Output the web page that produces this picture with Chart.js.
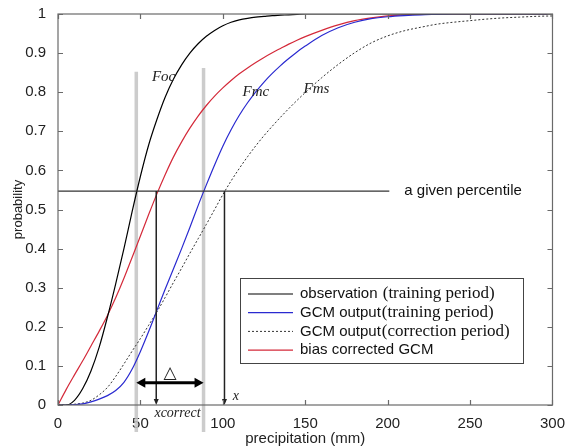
<!DOCTYPE html>
<html>
<head>
<meta charset="utf-8">
<script src="https://cdn.jsdelivr.net/npm/chart.js@4.4.1/dist/chart.umd.min.js"></script>
<style>
html, body { margin: 0; padding: 0; background: #fff; }
#wrap { width: 567px; height: 448px; }
</style>
</head>
<body>
<div id="wrap"><canvas id="chartCdf"></canvas></div>
<script>
// precipitation (mm) where the curves were read
const precip = [0, 5, 10, 15, 20, 25, 30, 35, 40, 45, 50, 55, 60, 65, 70, 75, 80, 85, 90, 95, 100,
    105, 110, 115, 120, 125, 130, 135, 140, 145, 150,
    160, 170, 180, 190, 200, 210, 220, 230, 240, 250, 260, 270, 280, 290, 300];

// Foc - observation (training period)
const obsTraining = [0, 0, 0.012, 0.042, 0.087, 0.148, 0.225, 0.31, 0.40, 0.495, 0.585, 0.665, 0.73, 0.787, 0.833, 0.87, 0.90, 0.924, 0.943, 0.958, 0.97,
    0.979, 0.985, 0.989, 0.992, 0.994, 0.996, 0.997, 0.998, 0.999, 1,
    1, 1, 1, 1, 1, 1, 1, 1, 1, 1, 1, 1, 1, 1, 1];
// Fmc - GCM output (training period)
const gcmTraining = [0, 0, 0.001, 0.003, 0.008, 0.015, 0.024, 0.037, 0.058, 0.092, 0.137, 0.188, 0.242, 0.296, 0.348, 0.40, 0.454, 0.51, 0.563, 0.614, 0.662,
    0.704, 0.741, 0.773, 0.801, 0.826, 0.848, 0.868, 0.886, 0.903, 0.918,
    0.945, 0.965, 0.979, 0.988, 0.993, 0.996, 0.998, 0.999, 1, 1, 1, 1, 1, 1, 1];
// Fms - GCM output (correction period)
const gcmCorrection = [0, 0, 0.002, 0.005, 0.012, 0.026, 0.045, 0.073, 0.105, 0.138, 0.17, 0.204, 0.238, 0.275, 0.313, 0.35, 0.388, 0.425, 0.462, 0.50, 0.538,
    0.573, 0.605, 0.635, 0.663, 0.689, 0.713, 0.736, 0.758, 0.779, 0.799,
    0.837, 0.871, 0.901, 0.926, 0.944, 0.957, 0.966, 0.974, 0.979, 0.983, 0.987, 0.99, 0.992, 0.994, 0.995];
// bias corrected GCM
const biasCorrected = [0, 0.04, 0.077, 0.113, 0.151, 0.189, 0.229, 0.274, 0.324, 0.378, 0.432, 0.487, 0.54, 0.589, 0.634, 0.673, 0.708, 0.739, 0.766, 0.79, 0.811,
    0.83, 0.847, 0.862, 0.876, 0.889, 0.901, 0.912, 0.923, 0.933, 0.942,
    0.958, 0.972, 0.983, 0.99, 0.995, 0.998, 0.999, 1, 1, 1, 1, 1, 1, 1, 1];

const xTicks = [0, 50, 100, 150, 200, 250, 300];
const yTicks = [0, 0.1, 0.2, 0.3, 0.4, 0.5, 0.6, 0.7, 0.8, 0.9, 1];

// annotation values (data units)
const percentile = 0.547;
const percentileLineEnd = 201;
const grayLinesX = [47.5, 88.3];
const grayLinesTop = [0.852, 0.862];
const grayLinesBottom = -0.069;
const arrowsX = [59.6, 101];
const deltaY = 0.057;
const curveLabels = [
    { text: 'Foc', x: 57, y: 0.839 },
    { text: 'Fmc', x: 112, y: 0.80 },
    { text: 'Fms', x: 149, y: 0.808 }
];

const SANS = '"Liberation Sans", Arial, sans-serif';
const SERIF = '"Liberation Serif", "Times New Roman", serif';

function toPoints(ys) {
    return precip.map((p, i) => ({ x: p, y: ys[i] }));
}

function arrowHead(ctx, x, y, dir, len, half) {
    // dir: 'down' | 'left' | 'right'
    ctx.beginPath();
    if (dir === 'down') {
        ctx.moveTo(x, y); ctx.lineTo(x - half, y - len); ctx.lineTo(x + half, y - len);
    } else if (dir === 'left') {
        ctx.moveTo(x, y); ctx.lineTo(x + len, y - half); ctx.lineTo(x + len, y + half);
    } else {
        ctx.moveTo(x, y); ctx.lineTo(x - len, y - half); ctx.lineTo(x - len, y + half);
    }
    ctx.closePath();
    ctx.fill();
}

const overlayPlugin = {
    id: 'overlay',
    beforeDatasetsDraw(chart) {
        const { ctx, scales: { x, y } } = chart;
        ctx.save();
        ctx.strokeStyle = 'rgba(195,195,195,0.85)';
        ctx.lineWidth = 3.5;
        grayLinesX.forEach((v, i) => {
            ctx.beginPath();
            ctx.moveTo(x.getPixelForValue(v), y.getPixelForValue(grayLinesTop[i]));
            ctx.lineTo(x.getPixelForValue(v), y.getPixelForValue(grayLinesBottom));
            ctx.stroke();
        });
        ctx.restore();
    },
    afterDatasetsDraw(chart) {
        const { ctx, scales: { x, y } } = chart;
        ctx.save();
        // given percentile line
        const py = y.getPixelForValue(percentile);
        ctx.strokeStyle = '#333';
        ctx.lineWidth = 1.2;
        ctx.beginPath();
        ctx.moveTo(x.getPixelForValue(0), py);
        ctx.lineTo(x.getPixelForValue(percentileLineEnd), py);
        ctx.stroke();
        ctx.fillStyle = '#111';
        ctx.font = '15px ' + SANS;
        ctx.textBaseline = 'middle';
        ctx.fillText('a given percentile', x.getPixelForValue(percentileLineEnd) + 15, py);

        // vertical arrows down to the axis
        ctx.strokeStyle = '#222';
        ctx.fillStyle = '#222';
        ctx.lineWidth = 1.5;
        const y0 = y.getPixelForValue(0);
        arrowsX.forEach(v => {
            const px = x.getPixelForValue(v);
            ctx.beginPath();
            ctx.moveTo(px, py);
            ctx.lineTo(px, y0 - 3);
            ctx.stroke();
            arrowHead(ctx, px, y0, 'down', 6, 2.5);
        });

        // delta double arrow
        const dy = y.getPixelForValue(deltaY);
        const dx1 = x.getPixelForValue(grayLinesX[0]);
        const dx2 = x.getPixelForValue(grayLinesX[1]);
        ctx.strokeStyle = '#000';
        ctx.fillStyle = '#000';
        ctx.lineWidth = 3;
        ctx.beginPath();
        ctx.moveTo(dx1 + 6, dy);
        ctx.lineTo(dx2 - 6, dy);
        ctx.stroke();
        arrowHead(ctx, dx1, dy, 'left', 9, 5);
        arrowHead(ctx, dx2, dy, 'right', 9, 5);

        // triangle (delta) label
        ctx.fillStyle = '#222';
        ctx.font = '17px "DejaVu Sans", sans-serif';
        ctx.textAlign = 'center';
        ctx.textBaseline = 'alphabetic';
        ctx.fillText('\u25B3', (dx1 + dx2) / 2, dy - 5);

        // curve names
        ctx.font = 'italic 15px ' + SERIF;
        ctx.textAlign = 'left';
        ctx.textBaseline = 'middle';
        curveLabels.forEach(l => ctx.fillText(l.text, x.getPixelForValue(l.x), y.getPixelForValue(l.y)));

        ctx.font = 'italic 14px ' + SERIF;
        ctx.textAlign = 'center';
        ctx.fillText('xcorrect', x.getPixelForValue(72.5), y0 + 8);
        ctx.textAlign = 'left';
        ctx.fillText('x', x.getPixelForValue(106), y0 - 9);
        ctx.restore();
    },
    afterDraw(chart) {
        const { ctx, chartArea: a, scales: { x, y } } = chart;
        ctx.save();
        // frame and inward ticks (matlab style)
        ctx.strokeStyle = '#6a6a6a';
        ctx.lineWidth = 1.2;
        ctx.strokeRect(a.left, a.top, a.right - a.left, a.bottom - a.top);
        ctx.beginPath();
        xTicks.forEach(v => {
            const px = Math.round(x.getPixelForValue(v)) + 0.5;
            ctx.moveTo(px, a.bottom); ctx.lineTo(px, a.bottom - 5);
            ctx.moveTo(px, a.top); ctx.lineTo(px, a.top + 5);
        });
        yTicks.forEach(v => {
            const py = Math.round(y.getPixelForValue(v)) + 0.5;
            ctx.moveTo(a.left, py); ctx.lineTo(a.left + 5, py);
            ctx.moveTo(a.right, py); ctx.lineTo(a.right - 5, py);
        });
        ctx.stroke();

        // legend box
        const bx = 240, by = 278, bw = 283, bh = 85;
        ctx.fillStyle = '#fff';
        ctx.fillRect(bx, by, bw, bh);
        ctx.strokeStyle = '#444';
        ctx.lineWidth = 1;
        ctx.strokeRect(bx + 0.5, by + 0.5, bw, bh);
        ctx.textBaseline = 'middle';
        chart.data.datasets.forEach((ds, i) => {
            const rowY = by + 16 + i * 18.7;
            ctx.strokeStyle = ds.borderColor;
            ctx.lineWidth = ds.borderWidth;
            ctx.setLineDash(ds.borderDash || []);
            ctx.beginPath();
            ctx.moveTo(bx + 8, rowY);
            ctx.lineTo(bx + 53, rowY);
            ctx.stroke();
            ctx.setLineDash([]);
            const cut = ds.label.indexOf('(');
            const first = cut >= 0 ? ds.label.slice(0, cut) : ds.label;
            const second = cut >= 0 ? ds.label.slice(cut) : '';
            ctx.fillStyle = '#111';
            ctx.font = '15px ' + SANS;
            ctx.fillText(first, bx + 60, rowY);
            const w = ctx.measureText(first).width;
            ctx.font = '17px ' + SERIF;
            ctx.fillText(second, bx + 61 + w, rowY);
        });
        ctx.restore();
    }
};

document.addEventListener('DOMContentLoaded', () => {
    const el = document.getElementById('chartCdf');
    new Chart(el, {
        type: 'line',
        data: {
            datasets: [
                { label: 'observation (training period)', data: toPoints(obsTraining), borderColor: '#000000', borderWidth: 1.2 },
                { label: 'GCM output(training period)', data: toPoints(gcmTraining), borderColor: '#2a2ad0', borderWidth: 1.2 },
                { label: 'GCM output(correction period)', data: toPoints(gcmCorrection), borderColor: '#333333', borderWidth: 1, borderDash: [2, 2] },
                { label: 'bias corrected GCM', data: toPoints(biasCorrected), borderColor: '#d42a3a', borderWidth: 1.2 }
            ].map(d => ({ ...d, pointRadius: 0, fill: false, cubicInterpolationMode: 'monotone' }))
        },
        options: {
            responsive: true,
            maintainAspectRatio: false,
            animation: false,
            layout: { padding: { top: 14, right: 14, left: 0, bottom: 0 } },
            plugins: { legend: { display: false }, tooltip: { enabled: false } },
            scales: {
                x: {
                    type: 'linear', min: 0, max: 300,
                    afterBuildTicks: s => { s.ticks = xTicks.map(v => ({ value: v })); },
                    afterFit: s => { s.height = 43; },
                    grid: { display: false },
                    border: { display: false },
                    ticks: { color: '#222', font: { family: SANS, size: 15 }, padding: 2, maxRotation: 0 },
                    title: { display: true, text: 'precipitation (mm)', color: '#222', font: { family: SANS, size: 15 }, padding: 0 }
                },
                y: {
                    type: 'linear', min: 0, max: 1,
                    afterBuildTicks: s => { s.ticks = yTicks.map(v => ({ value: v })); },
                    afterFit: s => { s.width = 58; },
                    grid: { display: false },
                    border: { display: false },
                    ticks: { color: '#222', font: { family: SANS, size: 15 }, padding: 4, callback: v => String(+v.toFixed(1)) },
                    title: { display: true, text: 'probability', color: '#222', font: { family: SANS, size: 13 }, padding: { top: 11, bottom: 0 } }
                }
            }
        },
        plugins: [overlayPlugin]
    });
});
</script>
</body>
</html>
